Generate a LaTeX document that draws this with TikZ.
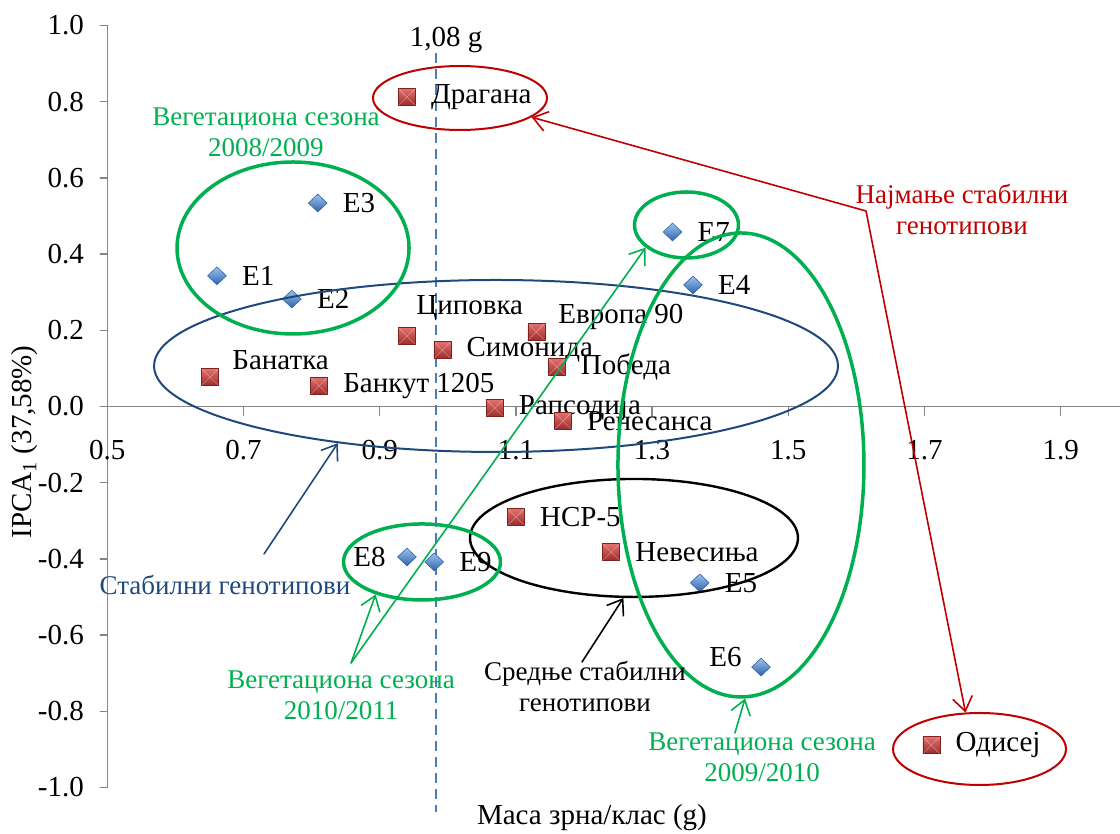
\documentclass[tikz,border=0pt]{standalone}
\usepackage{fontspec}
\setmainfont{Liberation Serif}
\usepackage{tikz}
\usetikzlibrary{arrows.meta,shapes.geometric,positioning}
\definecolor{osa}{HTML}{868686}
\definecolor{zelena}{HTML}{00B050}
\definecolor{crvena}{HTML}{C00000}
\definecolor{plava}{HTML}{1F497D}
\definecolor{isprek}{HTML}{4A7EBB}
\definecolor{genS}{HTML}{E5706D}
\definecolor{genD}{HTML}{9B2B29}
\definecolor{envS}{HTML}{9CC3F0}
\definecolor{envD}{HTML}{2F63A8}
\tikzset{
  gen/.style={rectangle,draw=genD!80!black,line width=0.3pt,top color=genS,bottom color=genD,
    minimum size=8.5pt,inner sep=0pt,
    path picture={\draw[white,opacity=0.35,line width=0.3pt]
      (path picture bounding box.north west) -- (path picture bounding box.south east)
      (path picture bounding box.north east) -- (path picture bounding box.south west);}},
  env/.style={diamond,draw=envD,line width=0.3pt,top color=envS,bottom color=envD,
    minimum width=9.5pt,minimum height=9pt,inner sep=0pt},
  lbl/.style={inner sep=0pt},
  ann/.style={align=center,inner sep=0pt,font=\fontsize{13.5}{15.5}\selectfont},
  elip/.style={ellipse,inner sep=0pt}
}
\begin{document}
\begin{tikzpicture}[line cap=round,line join=round,>={Straight Barb[length=7pt,width=10pt]},x=340.5pt,y=190.5pt,
    font=\fontsize{14.5}{17}\selectfont]
    \useasboundingbox (0.3424,-1.1220) rectangle (1.9871,1.0669);
    % ose
    \draw[color=osa,line width=0.75pt] (0.5,-1) -- (0.5,1);
    \draw[color=osa,line width=0.75pt] (0.5,0) -- (1.9871,0);
    \foreach \y/\t [count=\i] in {1/1.0,0.8/0.8,0.6/0.6,0.4/0.4,0.2/0.2,0/0.0,-0.2/-0.2,-0.4/-0.4,-0.6/-0.6,-0.8/-0.8,-1/-1.0}{
        \draw[color=osa,line width=0.75pt] (0.4897,\y) -- (0.5,\y);
        \node[lbl,anchor=east] (yt\i) at (0.466,\y) {\t};
    }
    \foreach \x [count=\i] in {0.5,0.7,0.9,1.1,1.3,1.5,1.7,1.9}{
        \draw[color=osa,line width=0.75pt] (\x,0) -- (\x,-0.0236);
        \node[lbl,anchor=base] (xt\i) at (\x,-0.1404) {\x};
    }
    \node[lbl] (xosa) at (1.2117,-1.0801) {Маса зрна/клас (g)};
    \node[lbl,rotate=90] (yosa) at (0.3791,-0.0932) {IPCA\textsubscript{1} (37,58\%)};
    % 1,08 g
    \draw[color=isprek,line width=0.75pt,dash pattern=on 5pt off 3pt,line cap=butt] (0.9827,0.9278) -- (0.9827,-1.0643);
    \node[lbl] (t108) at (0.9974,0.9619) {1,08 g};
    % genotipovi
    \foreach \n/\x/\y/\t in {dragana/0.940/0.812/Драгана,bankut/0.811/0.054/Банкут 1205,
        simonida/0.992/0.148/Симонида,pobeda/1.160/0.104/Победа,rapsodija/1.069/-0.004/Рапсодија,
        renesansa/1.169/-0.038/Ренесанса,nsr/1.100/-0.290/НСР-5,nevesinja/1.240/-0.382/Невесиња,
        odisej/1.710/-0.889/Одисеј}{
        \node[gen] (\n) at (\x,\y) {};
        \node[lbl,right=7.5pt of \n] (t\n) {\t};
    }
    \node[gen] (banatka) at (0.651,0.077) {};
    \node[lbl,anchor=west] (tbanatka) at (0.6831,0.1220) {Банатка};
    \node[gen] (cipovka) at (0.940,0.185) {};
    \node[lbl,anchor=west] (tcipovka) at (0.9533,0.2585) {Циповка};
    \node[gen] (evropa) at (1.130,0.196) {};
    \node[lbl,anchor=west] (tevropa) at (1.1618,0.2349) {Европа 90};
    % sredine
    \foreach \n/\x/\y in {E1/0.661/0.343,E2/0.771/0.282,E3/0.809/0.534,E4/1.360/0.319,
        E5/1.370/-0.463,E7/1.330/0.458,E9/0.980/-0.408}{
        \node[env] (\n) at (\x,\y) {};
        \node[lbl,right=7.5pt of \n] (t\n) {\n};
    }
    \node[env] (E6) at (1.460,-0.684) {};
    \node[lbl,anchor=east] (tE6) at (1.4320,-0.6575) {E6};
    \node[env] (E8) at (0.940,-0.395) {};
    \node[lbl,anchor=east] (tE8) at (0.9093,-0.3950) {E8};
    % elipse
    \node[elip,draw=crvena,line width=1pt,minimum width=87pt,minimum height=32pt] (eDragana) at (1.0179,0.8097) {};
    \node[elip,draw=crvena,line width=1pt,minimum width=86.5pt,minimum height=36pt] (eOdisej) at (1.7808,-0.8990) {};
    \node[elip,draw=plava,line width=1pt,minimum width=342pt,minimum height=86pt] (eStab) at (1.0708,0.1063) {};
    \node[elip,draw=black,line width=1.2pt,minimum width=164pt,minimum height=59pt] (eSred) at (1.2734,-0.3451) {};
    \node[elip,draw=zelena,line width=1.75pt,minimum width=116pt,minimum height=86pt] (eSez1) at (0.7727,0.4160) {};
    \node[elip,draw=zelena,line width=1.75pt,minimum width=52pt,minimum height=33pt] (eE7) at (1.3505,0.4764) {};
    \node[elip,draw=zelena,line width=1.75pt,minimum width=78.5pt,minimum height=38pt] (eE89) at (0.9621,-0.4081) {};
    \node[elip,draw=zelena,line width=1.75pt,minimum width=123pt,minimum height=232pt] (eSez2) at (1.4305,-0.1535) {};
    % natpisi
    \node[ann,text=zelena] (tSez1) at (0.7330,0.7205) {Вегетациона сезона\\2008/2009};
    \node[ann,text=crvena] (tNajm) at (1.7551,0.5184) {Најмање стабилни\\генотипови};
    \node[ann,text=plava] (tStab) at (0.6728,-0.4685) {Стабилни генотипови};
    \node[ann,text=zelena] (tSez3) at (0.8432,-0.7572) {Вегетациона сезона\\2010/2011};
    \node[ann] (tSred) at (1.2015,-0.7336) {Средње стабилни\\генотипови};
    \node[ann,text=zelena] (tSez2) at (1.4614,-0.9199) {Вегетациона сезона\\2009/2010};
    % strelice
    \coordinate (kStab) at (0.7301,-0.3871);
    \coordinate (kNajm) at (1.6141,0.5131);
    \coordinate (kSez3) at (0.8579,-0.6732);
    \coordinate (kSez2) at (1.4216,-0.8570);
    \coordinate (kSred) at (1.1971,-0.6706);
    \draw[->,color=plava,line width=0.8pt] (kStab) -- (eStab.-154);
    \draw[<->,color=crvena,line width=0.8pt] (eDragana.-15) -- (kNajm) -- (eOdisej.111);
    \draw[->,color=zelena,line width=0.8pt] (kSez3) -- (eE89.-145);
    \draw[->,color=zelena,line width=0.8pt] (kSez3) -- (eE7.-151);
    \draw[->,color=zelena,line width=0.8pt] (kSez2) -- (eSez2.-89);
    \draw[->,color=black,line width=0.8pt] (kSred) -- (eSred.-100);
\end{tikzpicture}
\end{document}
